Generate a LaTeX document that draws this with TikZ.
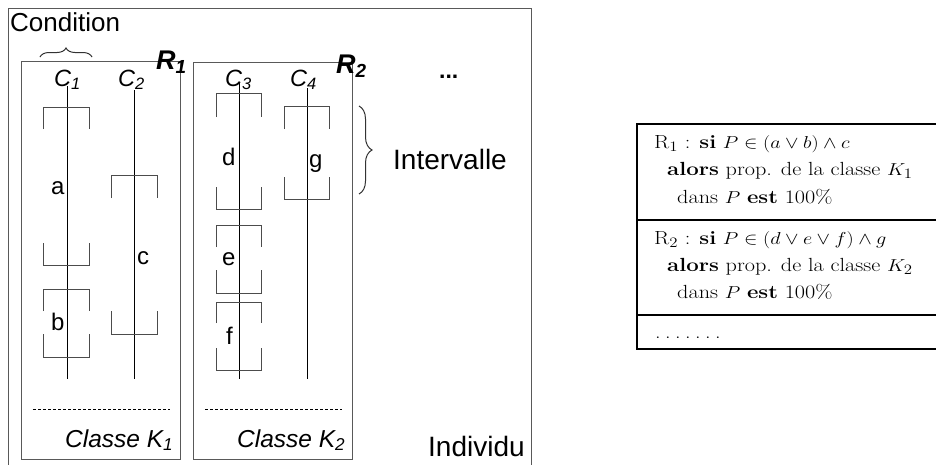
\documentclass[tikz,border=0pt]{standalone}
\usepackage{fontspec}
\usepackage{graphicx}
\newfontfamily\arial{Liberation Sans}
\usetikzlibrary{decorations.pathreplacing}
\newcommand\intv[6]{%
  \draw[brk] (#1,#4) -- (#1,#3) -- (#2,#3) -- (#2,#4);
  \draw[brk] (#1,#5) -- (#1,#6) -- (#2,#6) -- (#2,#5);}
\newcommand\dotrow{.\kern.2em.\kern.2em.\kern.2em.\kern.2em.\kern.2em.\kern.2em.}
\newcommand\tabtext[1]{\scalebox{1.17}[1]{#1}}
\begin{document}
\begin{tikzpicture}[x=1pt,y=-1pt,
  box/.style={draw=black!65, line width=1pt},
  axisline/.style={draw=black, line width=0.9pt},
  brk/.style={draw=black!70, line width=1pt},
  lbl/.style={font=\arial\fontsize{28}{28}\selectfont, inner sep=0pt, anchor=base west},
  clbl/.style={font=\arial\itshape\fontsize{23.5}{24}\selectfont, inner sep=0pt, anchor=base west},
  rlbl/.style={font=\arial\bfseries\itshape\fontsize{27}{27}\selectfont, inner sep=0pt, anchor=base west},
  ilbl/.style={font=\arial\fontsize{24}{24}\selectfont, inner sep=0pt, anchor=base west},
  tab/.style={inner sep=0pt, anchor=base west, font=\fontsize{19}{22}\selectfont},
  tline/.style={draw=black, line width=2pt},
  dash line/.style={draw=black, line width=0.8pt, dash pattern=on 3pt off 2pt},
  brace line/.style={draw=black!80, line width=1pt, decorate},
]
\useasboundingbox (0,0) rectangle (936,464);
\clip (0,0) rectangle (936,464);
\fill[white] (0,0) rectangle (936,464);

% outer box and rule boxes
\draw[box] (8,8) rectangle (531,470);
\draw[box] (21,61) rectangle (180,459);
\draw[box] (193,62) rectangle (352,459);

% labels
\node[lbl, font=\arial\fontsize{26}{26}\selectfont] (cond) at (10,31) {Condition};
\draw[brace line, decoration={brace, amplitude=9pt}] (40,57) -- (92,57);
\node[clbl] (c1) at (54,86) {C\textsubscript{1}};
\node[clbl] (c2) at (118,86) {C\textsubscript{2}};
\node[clbl] (c3) at (225,86) {C\textsubscript{3}};
\node[clbl] (c4) at (290,86) {C\textsubscript{4}};
\node[rlbl] (r1) at (156,69) {R\textsubscript{1}};
\node[rlbl] (r2) at (336,73) {R\textsubscript{2}};
\node[lbl, font=\arial\bfseries\fontsize{23}{23}\selectfont] (dots) at (439,78) {...};

% axes
\draw[axisline] (67,86) -- (67,379);
\draw[axisline] (134,90) -- (134,379);
\draw[axisline] (239,83) -- (239,379);
\draw[axisline] (307,88) -- (307,379);

% intervals
\intv{43}{89}{107}{129}{243}{265}
\intv{43}{89}{289}{311}{334}{357}
\intv{111}{157}{175}{198}{311}{334}
\intv{216}{261}{93}{117}{187}{209}
\intv{216}{261}{225}{247}{270}{293}
\intv{216}{261}{302}{323}{348}{370}
\intv{284}{329}{106}{129}{177}{199}

\node[ilbl] (la) at (51,194) {a};
\node[ilbl] (lb) at (51,330) {b};
\node[ilbl] (lc) at (137,264) {c};
\node[ilbl] (ld) at (222,165) {d};
\node[ilbl] (le) at (222,265) {e};
\node[ilbl] (lf) at (226,344) {f};
\node[ilbl] (lg) at (309,167) {g};

% interval brace
\draw[brace line, decoration={brace, amplitude=13pt}] (359,106) -- (359,194);
\node[lbl] (intervalle) at (393,169) {Intervalle};

% dashed lines and class labels
\draw[dash line] (33,409) -- (170,409);
\draw[dash line] (205,409) -- (342,409);
\node[clbl, font=\arial\itshape\fontsize{24.5}{25}\selectfont] (k1) at (65,447) {Classe K\textsubscript{1}};
\node[clbl, font=\arial\itshape\fontsize{24.5}{25}\selectfont] (k2) at (237,447) {Classe K\textsubscript{2}};
\node[lbl] (indiv) at (428,456) {Individu};

% table
\draw[tline] (637,124) rectangle (950,349);
\draw[tline] (637,219.5) -- (950,219.5);
\draw[tline] (637,315) -- (950,315);
\node[tab] (t1) at (654,148) {\tabtext{$\mathrm{R}_1$ : \textbf{si} $P\in(a\vee b)\wedge c$}};
\node[tab] (t2) at (667,175) {\tabtext{\textbf{alors} prop. de la classe $K_1$}};
\node[tab] (t3) at (677,203) {\tabtext{dans $P$ \textbf{est} 100\%}};
\node[tab] (t4) at (654,244) {\tabtext{$\mathrm{R}_2$ : \textbf{si} $P\in(d\vee e\vee f)\wedge g$}};
\node[tab] (t5) at (667,271) {\tabtext{\textbf{alors} prop. de la classe $K_2$}};
\node[tab] (t6) at (677,298) {\tabtext{dans $P$ \textbf{est} 100\%}};
\node[tab] (t7) at (655,338) {\tabtext{\dotrow}};
\end{tikzpicture}
\end{document}
